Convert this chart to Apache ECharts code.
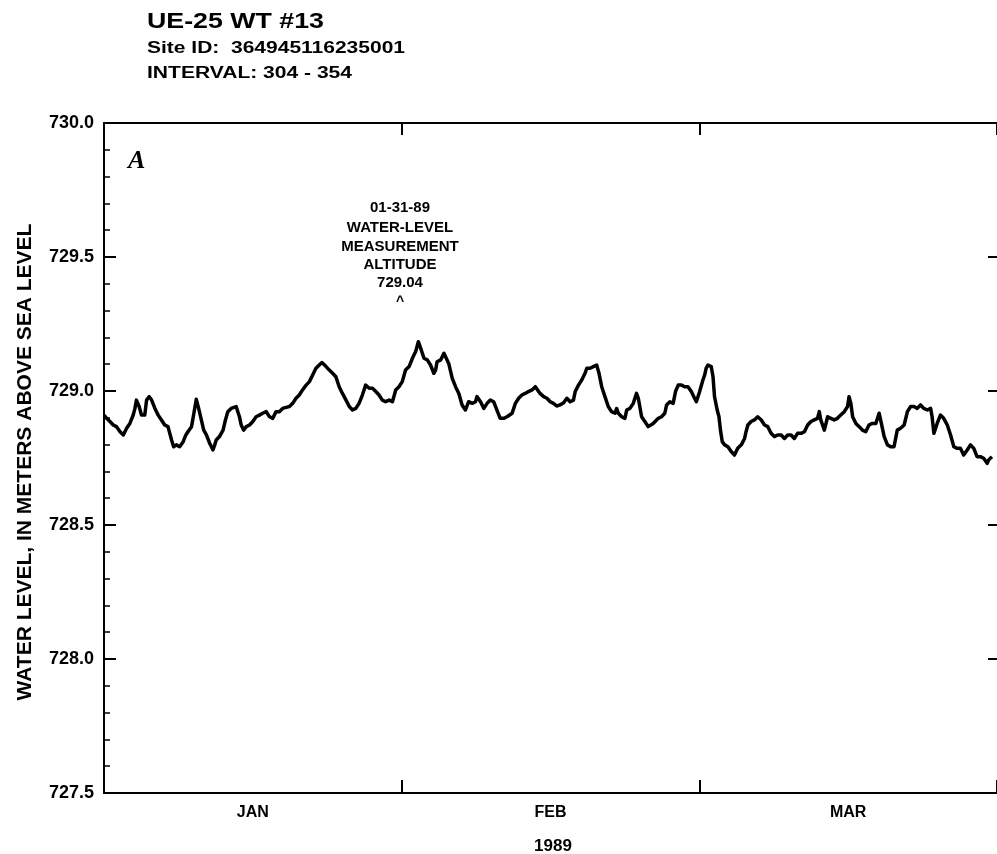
<!DOCTYPE html>
<html><head><meta charset="utf-8">
<script src="https://cdn.jsdelivr.net/npm/echarts@6/dist/echarts.min.js"></script>
<style>html,body{margin:0;padding:0;background:#fff}#c{width:997px;height:854px}</style>
</head><body><div id="c"></div>
<script>
// ---- data ----
const months = ['JAN', 'FEB', 'MAR'];
const yMin = 727.5, yMax = 730.0, yStep = 0.5;
const yearLabel = '1989';
const titleLines = ['UE-25 WT #13', 'Site ID:  364945116235001', 'INTERVAL: 304 - 354'];
const noteLines = ['01-31-89', 'WATER-LEVEL', 'MEASUREMENT', 'ALTITUDE', '729.04'];
const yName = 'WATER LEVEL, IN METERS ABOVE SEA LEVEL';
const panelLetter = 'A';

// x = position in months since Jan 1 (each month drawn equal width)
const janPos = [0.000,0.009,0.020,0.031,0.042,0.054,0.065,0.070,0.076,0.087,0.098,0.104,0.109,0.118,0.126,0.137,0.143,0.152,0.160,0.171,0.182,0.193,0.204,0.215,0.221,0.227,0.234,0.243,0.254,0.266,0.275,0.282,0.294,0.302,0.310,0.318,0.327,0.335,0.344,0.355,0.366,0.372,0.377,0.388,0.400,0.408,0.416,0.427,0.444,0.455,0.461,0.469,0.478,0.489,0.500,0.511,0.522,0.533,0.545,0.556,0.567,0.578,0.589,0.600,0.612,0.623,0.634,0.645,0.656,0.667,0.679,0.690,0.701,0.712,0.723,0.732,0.746,0.757,0.768,0.779,0.790,0.801,0.813,0.824,0.835,0.846,0.857,0.868,0.879,0.891,0.902,0.913,0.924,0.935,0.946,0.958,0.969,0.980,0.991];
const janLevel = [728.910,728.898,728.886,728.873,728.867,728.848,728.836,728.832,728.861,728.879,728.910,728.935,728.966,728.942,728.910,728.910,728.966,728.979,728.966,728.935,728.910,728.892,728.873,728.867,728.842,728.817,728.792,728.799,728.792,728.811,728.836,728.848,728.867,728.917,728.969,728.935,728.892,728.854,728.836,728.805,728.780,728.799,728.817,728.830,728.854,728.892,728.923,728.935,728.942,728.904,728.873,728.854,728.867,728.873,728.886,728.904,728.910,728.917,728.923,728.904,728.898,728.923,728.923,728.935,728.939,728.942,728.954,728.973,728.985,729.004,729.022,729.035,729.060,729.085,729.097,729.106,729.091,729.078,729.066,729.053,729.016,728.991,728.966,728.942,728.929,728.935,728.954,728.985,729.022,729.010,729.010,728.998,728.985,728.966,728.960,728.966,728.960,729.004,729.016];

const febPos = [1.002,1.013,1.025,1.036,1.047,1.056,1.064,1.075,1.086,1.097,1.108,1.114,1.119,1.131,1.142,1.147,1.158,1.170,1.181,1.192,1.203,1.214,1.225,1.237,1.248,1.253,1.265,1.276,1.287,1.298,1.309,1.320,1.331,1.343,1.354,1.371,1.382,1.393,1.404,1.415,1.426,1.438,1.449,1.454,1.465,1.477,1.488,1.499,1.510,1.521,1.532,1.544,1.555,1.566,1.577,1.583,1.594,1.605,1.616,1.622,1.633,1.644,1.655,1.663,1.672,1.683,1.694,1.705,1.717,1.722,1.728,1.739,1.750,1.756,1.767,1.778,1.789,1.795,1.800,1.806,1.817,1.828,1.834,1.845,1.862,1.873,1.884,1.890,1.901,1.912,1.920,1.929,1.940,1.951,1.962,1.973,1.984,1.990];
const febLevel = [729.035,729.078,729.091,729.122,729.147,729.184,729.159,729.122,729.116,729.097,729.066,729.078,729.109,729.116,729.141,729.147,729.103,729.047,729.016,728.991,728.948,728.929,728.960,728.954,728.960,728.979,728.960,728.935,728.954,728.966,728.960,728.929,728.898,728.898,728.904,728.917,728.954,728.973,728.985,728.991,728.998,729.004,729.016,729.010,728.991,728.979,728.973,728.960,728.954,728.944,728.948,728.956,728.973,728.960,728.966,728.998,729.022,729.041,729.066,729.085,729.085,729.091,729.097,729.066,729.016,728.979,728.942,728.923,728.917,728.935,728.917,728.904,728.898,728.929,728.935,728.954,728.991,728.973,728.942,728.904,728.886,728.867,728.861,728.879,728.898,728.904,728.917,728.948,728.960,728.954,728.998,729.022,729.022,729.016,729.016,728.998,728.973,728.960];

const marPos = [2.001,2.012,2.018,2.023,2.029,2.040,2.046,2.051,2.060,2.066,2.071,2.077,2.085,2.096,2.107,2.118,2.129,2.141,2.152,2.157,2.163,2.174,2.185,2.196,2.202,2.208,2.219,2.230,2.241,2.252,2.263,2.275,2.286,2.297,2.308,2.319,2.330,2.342,2.353,2.364,2.375,2.386,2.397,2.403,2.408,2.420,2.431,2.442,2.453,2.464,2.475,2.487,2.498,2.503,2.509,2.515,2.526,2.537,2.548,2.559,2.570,2.581,2.593,2.604,2.609,2.621,2.632,2.643,2.654,2.665,2.676,2.688,2.699,2.710,2.721,2.732,2.743,2.754,2.766,2.777,2.782,2.788,2.799,2.810,2.821,2.833,2.844,2.855,2.866,2.877,2.888,2.900,2.911,2.922,2.933,2.944,2.955,2.967,2.972,2.983];
const marLevel = [728.998,729.041,729.060,729.085,729.097,729.091,729.053,728.979,728.929,728.904,728.854,728.811,728.799,728.792,728.774,728.761,728.786,728.799,728.823,728.848,728.873,728.886,728.892,728.904,728.910,728.892,728.873,728.867,728.842,728.830,728.836,728.836,728.823,728.836,728.836,728.823,728.842,728.842,728.848,728.873,728.886,728.892,728.898,728.923,728.892,728.854,728.904,728.898,728.892,728.898,728.910,728.923,728.942,728.979,728.954,728.904,728.879,728.867,728.854,728.848,728.873,728.879,728.879,728.917,728.892,728.830,728.799,728.792,728.792,728.854,728.861,728.873,728.923,728.942,728.942,728.935,728.948,728.935,728.929,728.935,728.904,728.842,728.879,728.910,728.898,728.873,728.836,728.792,728.786,728.786,728.761,728.780,728.799,728.786,728.755,728.755,728.749,728.730,728.743,728.755];

// ---- build ----
const positions = janPos.concat(febPos, marPos);
const levels = janLevel.concat(febLevel, marLevel);
const seriesData = positions.map((p, i) => [p, levels[i]]);

const FONT = '"Liberation Sans", Arial, Helvetica, sans-serif';
const ctx = document.createElement('canvas').getContext('2d');
function measure(text, size) { ctx.font = 'bold ' + size + 'px ' + FONT; return ctx.measureText(text).width; }
function fitText(text, x, y, size, targetW) {
  return { type: 'text', x: x, y: y, scaleX: targetW / measure(text, size),
    style: { text: text, fill: '#000', font: 'bold ' + size + 'px ' + FONT, align: 'left', verticalAlign: 'middle' } };
}
function centerText(text, x, y, size, extra) {
  return Object.assign({ type: 'text', x: x, y: y,
    style: { text: text, fill: '#000', font: 'bold ' + size + 'px ' + FONT, align: 'center', verticalAlign: 'middle' } }, extra || {});
}

const graphics = [
  fitText(titleLines[0], 147, 22, 22, 177),
  fitText(titleLines[1], 147, 49, 16, 258),
  fitText(titleLines[2], 147, 74, 16, 205),
  { type: 'text', x: 128, y: 161, style: { text: panelLetter, fill: '#000', font: 'italic bold 26px "Liberation Serif", "Times New Roman", serif', align: 'left', verticalAlign: 'middle' } },
  centerText(yName, 25, 462, 21, { rotation: Math.PI / 2 }),
  centerText(yearLabel, 553, 846, 17),
  centerText('^', 400, 302, 14)
];
const noteY = [208, 228, 247, 265, 283];
noteLines.forEach((t, i) => graphics.push(centerText(t, 400, noteY[i], 15)));

const axisLineStyle = { color: '#000', width: 2 };
const chart = echarts.init(document.getElementById('c'), null, { renderer: 'canvas' });
chart.setOption({
  animation: false,
  backgroundColor: '#fff',
  grid: { left: 104, top: 123, right: 0, height: 670, containLabel: false },
  xAxis: [
    { type: 'value', min: 0, max: 3, interval: 1, position: 'bottom',
      axisLine: { show: true, lineStyle: axisLineStyle },
      axisTick: { show: true, inside: true, length: 13, lineStyle: { color: '#000', width: 2 } },
      axisLabel: { show: false }, splitLine: { show: false } },
    { type: 'value', min: 0, max: 3, interval: 1, position: 'top',
      axisLine: { show: true, lineStyle: axisLineStyle },
      axisTick: { show: true, inside: true, length: 12, lineStyle: { color: '#000', width: 2 } },
      axisLabel: { show: false }, splitLine: { show: false } },
    { type: 'category', data: months, position: 'bottom', boundaryGap: true,
      axisLine: { show: false }, axisTick: { show: false }, splitLine: { show: false },
      axisLabel: { margin: 12, fontSize: 16, fontWeight: 'bold', color: '#000', fontFamily: FONT } }
  ],
  yAxis: [
    { type: 'value', min: yMin, max: yMax, interval: yStep, position: 'left',
      axisLine: { show: true, lineStyle: axisLineStyle },
      axisTick: { show: true, inside: true, length: 12, lineStyle: { color: '#000', width: 2 } },
      minorTick: { show: true, splitNumber: 5, length: 6, lineStyle: { color: '#000', width: 1.5 } },
      minorSplitLine: { show: false },
      axisLabel: { margin: 10, fontSize: 18, fontWeight: 'bold', color: '#000', fontFamily: FONT,
        formatter: v => v.toFixed(1) },
      splitLine: { show: false } },
    { type: 'value', min: yMin, max: yMax, interval: yStep, position: 'right', offset: 0,
      axisLine: { show: false, onZero: false },
      axisTick: { show: true, inside: true, length: 9, lineStyle: { color: '#000', width: 2 } },
      axisLabel: { show: false }, splitLine: { show: false } }
  ],
  series: [{
    type: 'line', xAxisIndex: 0, yAxisIndex: 0, data: seriesData,
    showSymbol: false, symbol: 'none', smooth: false,
    lineStyle: { color: '#000', width: 3.5, join: 'round' }
  }],
  graphic: graphics
});
</script></body></html>
